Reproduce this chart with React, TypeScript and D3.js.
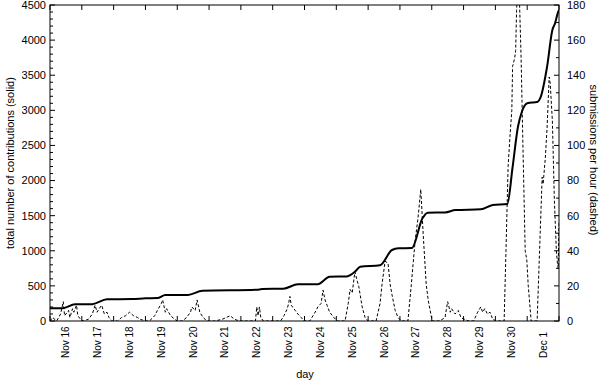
import React from "react";
import * as d3 from "d3";

const START = new Date(2009, 10, 16, 0, 0, 0);
const END = new Date(2009, 11, 2, 0, 0, 0);

const dayLabels = ["Nov 16", "Nov 17", "Nov 18", "Nov 19", "Nov 20", "Nov 21", "Nov 22", "Nov 23", "Nov 24", "Nov 25", "Nov 26", "Nov 27", "Nov 28", "Nov 29", "Nov 30", "Dec 1"];

const leftTicks = [0, 500, 1000, 1500, 2000, 2500, 3000, 3500, 4000, 4500];
const rightTicks = [0, 20, 40, 60, 80, 100, 120, 140, 160, 180];

// cumulative contributions (solid), hours since Nov 16 00:00
const totalHours = [0, 9, 19, 32, 43, 62, 72, 81, 87, 104, 115, 156, 160, 176, 187, 202, 211, 224, 230, 234, 249, 258, 263, 273, 281, 285, 298, 306, 325, 334, 345, 349, 353, 356, 360, 368, 370, 375, 379, 381, 383, 384];
const totalValues = [180, 180, 238, 240, 309, 312, 323, 326, 370, 372, 431, 445, 455, 460, 522, 525, 631, 635, 700, 773, 793, 1011, 1035, 1040, 1462, 1542, 1545, 1580, 1590, 1652, 1666, 2193, 2763, 2980, 3100, 3123, 3180, 3621, 4144, 4239, 4381, 4430];

// submissions per hour (dashed)
const rateHours = [
  0, 2, 5, 8, 10, 11, 14, 15, 17, 18, 20, 21, 23,
  25, 29, 32, 34, 35.5, 38, 39, 41, 43, 44.5, 47,
  51, 54, 57, 60, 63, 66, 68, 72,
  75, 79, 81, 84, 85, 87, 88, 91, 94, 96,
  100, 103, 106, 107, 109.5, 111, 113, 115.5, 118.5,
  124.5, 130, 133, 136, 139, 143,
  151, 155, 156, 157, 158, 159, 161, 166,
  174, 176.5, 179, 180, 181, 182, 183, 185, 187, 189.5, 191.7,
  196, 200.8, 202, 204.5, 206, 207.5, 209, 211, 213.6, 216.6,
  222.6, 225, 226.4, 228, 230, 231.7, 233, 235.5, 237.7, 240,
  246, 249, 250.5, 252.8, 255, 256.6, 258, 260.4, 262.6, 265,
  270, 272.5, 275.5, 277.7, 279.7, 280.8, 281.5, 283.8, 285.3, 286.8, 288.3,
  294, 298, 300, 302, 303, 305.6, 308, 310, 312.4,
  316, 319.6, 322.6, 325, 326.4, 328, 330, 332, 334, 336.6,
  339.6, 342.6, 344, 345.6, 347, 348.4, 349, 350.6, 351.3, 352, 353.2, 353.9, 355.4, 356.9, 358.5, 359.7, 360.8, 363, 367.5,
  369.8, 371.3, 372, 373.6, 375, 376.6, 377.4, 379, 380.5, 382, 382.8, 383.4, 384,
];
const rateValues = [
  0, 2, 0, 4, 11, 3, 6, 2, 7, 5, 9, 3, 1,
  0, 1, 4, 9, 5, 8, 9, 4, 5, 2, 0,
  0, 2, 3, 5, 3, 2, 1, 0,
  0, 3, 6, 10, 12, 5, 7, 3, 1, 0,
  0, 2, 5, 8, 6, 12, 5, 2, 0,
  0, 1, 2, 3, 1, 0,
  0, 0, 8, 3, 8, 2, 0, 0,
  0, 3, 7, 10, 14, 9, 8, 6, 4, 2, 0,
  0, 6, 8, 10, 17.6, 12, 9, 5, 2.5, 0,
  0, 10, 18, 16, 28, 23, 19.5, 8, 2, 0,
  0, 10, 21, 34, 33, 21, 15, 6, 2, 0,
  0, 20, 46, 59, 75, 60, 50, 21, 12, 6, 0,
  0, 2, 11, 5, 7, 4, 6, 2, 1,
  0, 0, 5, 8, 5, 7, 4, 5, 1, 0,
  0, 0, 40, 88, 105, 120, 145, 150, 154, 177, 195, 190, 150, 96, 40, 35, 20, 0, 0,
  50, 82, 78, 92, 110, 139, 135, 114, 69, 40, 33, 30, 57,
];

const W = 604, H = 380;
const L = 50, R = 559, T = 5, B = 321;
const FONT = "'Liberation Sans', Arial, Helvetica, sans-serif";

const hourToDate = (h: number) => new Date(START.getTime() + h * 3600 * 1000);

export default function App() {
  const x = d3.scaleTime().domain([START, END]).range([L, R]);
  const yL = d3.scaleLinear().domain([0, 4500]).range([B, T]);
  const yR = d3.scaleLinear().domain([0, 180]).range([B, T]);

  const totalData = totalHours.map((h, i) => ({ d: hourToDate(h), v: totalValues[i] }));
  const rateData = rateHours.map((h, i) => ({ d: hourToDate(h), v: rateValues[i] }));

  const solidPath = d3.line<{ d: Date; v: number }>().x((p) => x(p.d)).y((p) => yL(p.v)).curve(d3.curveMonotoneX)(totalData) || "";
  const dashedPath = d3.line<{ d: Date; v: number }>().x((p) => x(p.d)).y((p) => yR(p.v))(rateData) || "";

  const dayTicks = d3.timeDay.range(START, d3.timeDay.offset(END, 1));
  const leftMinor = d3.range(0, 4501, 100);
  const rightMinor = d3.range(0, 181, 10);

  return (
    <svg width={W} height={H} style={{ position: "absolute", left: 0, top: 0, background: "#fff" }} fontFamily={FONT}>
      <defs>
        <clipPath id="plot">
          <rect x={L} y={T} width={R - L} height={B - T} />
        </clipPath>
      </defs>
      <rect x={0} y={0} width={W} height={H} fill="#fff" />
      {dayTicks.map((d, i) => (
        <g key={"xt" + i}>
          <line x1={x(d)} x2={x(d)} y1={B} y2={B - 5} stroke="#000" strokeWidth={1} />
          <line x1={x(d)} x2={x(d)} y1={T} y2={T + 5} stroke="#000" strokeWidth={1} />
        </g>
      ))}
      {leftMinor.map((v) => (
        <line key={"lm" + v} x1={L} x2={L + (v % 500 === 0 ? 5 : 3)} y1={yL(v)} y2={yL(v)} stroke="#000" strokeWidth={1} />
      ))}
      {rightMinor.map((v) => (
        <line key={"rm" + v} x1={R} x2={R - (v % 20 === 0 ? 5 : 3)} y1={yR(v)} y2={yR(v)} stroke="#000" strokeWidth={1} />
      ))}
      <g clipPath="url(#plot)">
        <path d={dashedPath} fill="none" stroke="#000" strokeWidth={1} strokeDasharray="3,2" />
        <path d={solidPath} fill="none" stroke="#000" strokeWidth={2} strokeLinejoin="round" />
      </g>
      <rect x={L} y={T} width={R - L} height={B - T} fill="none" stroke="#000" strokeWidth={1} />
      {leftTicks.map((v) => (
        <text key={"ll" + v} x={L - 4} y={yL(v)} dy="0.35em" textAnchor="end" fontSize={11} fill="#000">{v}</text>
      ))}
      {rightTicks.map((v) => (
        <text key={"rl" + v} x={R + 8} y={yR(v)} dy="0.35em" textAnchor="start" fontSize={11} fill="#000">{v}</text>
      ))}
      {dayLabels.map((lab, i) => {
        const cx = x(d3.timeHour.offset(d3.timeDay.offset(START, i), 12));
        return (
          <text key={"dl" + i} transform={`translate(${cx},358) rotate(-90)`} dy="0.35em" textAnchor="start" fontSize={10} fill="#000">{lab}</text>
        );
      })}
      <text x={305} y={378} textAnchor="middle" fontSize={11} fill="#000">day</text>
      <text transform={`translate(10,163) rotate(-90)`} dy="0.35em" textAnchor="middle" fontSize={11} fill="#000">total number of contributions (solid)</text>
      <text transform={`translate(594,160) rotate(90)`} dy="0.35em" textAnchor="middle" fontSize={11} fill="#000">submissions per hour (dashed)</text>
    </svg>
  );
}
